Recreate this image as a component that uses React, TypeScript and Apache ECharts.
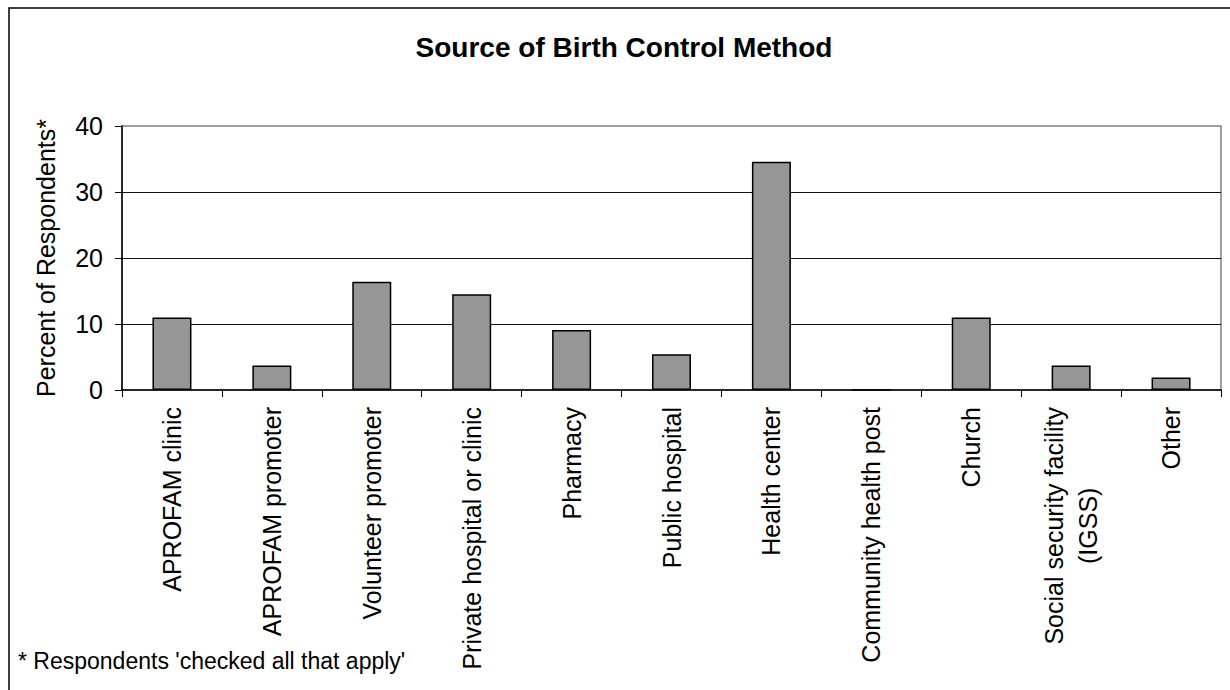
import React, { useEffect, useRef } from "react";
import * as echarts from "echarts";

const categories = [
  "APROFAM clinic",
  "APROFAM promoter",
  "Volunteer promoter",
  "Private hospital or clinic",
  "Pharmacy",
  "Public hospital",
  "Health center",
  "Community health post",
  "Church",
  "Social security facility\n(IGSS)",
  "Other",
];
const percentValues = [11.0, 3.7, 16.4, 14.5, 9.1, 5.4, 34.6, 0, 11.0, 3.7, 1.9];
const yTicks = [0, 10, 20, 30, 40];
const titleText = "Source of Birth Control Method";
const yAxisTitle = "Percent of Respondents*";
const footnote = "* Respondents 'checked all that apply'";

const FONT = "'Liberation Sans', Arial, Helvetica, sans-serif";

export default function App() {
  const ref = useRef<HTMLDivElement>(null);
  useEffect(() => {
    if (!ref.current) return;
    const chart = echarts.init(ref.current, null, { renderer: "svg" });
    chart.setOption({
      animation: false,
      backgroundColor: "#ffffff",
      textStyle: { fontFamily: FONT },
      graphic: [
        {
          type: "rect",
          shape: { x: 9, y: 8, width: 1300, height: 800 },
          style: { fill: "none", stroke: "#000", lineWidth: 1.5 },
          silent: true,
        },
        {
          type: "text",
          x: 624,
          y: 47,
          style: {
            text: titleText,
            fontFamily: FONT,
            fontSize: 28,
            fontWeight: "bold",
            fill: "#000",
            align: "center",
            verticalAlign: "middle",
          },
        },
        {
          type: "text",
          x: 18,
          y: 661,
          style: {
            text: footnote,
            fontFamily: FONT,
            fontSize: 23,
            fill: "#000",
            align: "left",
            verticalAlign: "middle",
          },
        },
      ],
      grid: {
        left: 122,
        right: 9,
        top: 126,
        bottom: 300,
        show: true,
        borderColor: "#808080",
        borderWidth: 1.5,
        backgroundColor: "transparent",
      },
      xAxis: {
        type: "category",
        data: categories,
        boundaryGap: true,
        axisLine: { show: true, lineStyle: { color: "#000", width: 1.5 } },
        axisTick: { show: true, length: 7, lineStyle: { color: "#000", width: 1 } },
        axisLabel: {
          rotate: 90,
          interval: 0,
          margin: 17,
          color: "#000",
          fontSize: 25,
          fontFamily: FONT,
          formatter: (v: string) =>
            v
              .split("\n")
              .map((s) => `{c|${s}}`)
              .join("\n"),
          rich: {
            c: {
              align: "center",
              fontSize: 25,
              fontFamily: FONT,
              color: "#000",
              lineHeight: 34,
            },
          },
        },
      },
      yAxis: {
        type: "value",
        min: yTicks[0],
        max: yTicks[yTicks.length - 1],
        interval: 10,
        name: yAxisTitle,
        nameLocation: "middle",
        nameGap: 64,
        nameTextStyle: { fontSize: 25, color: "#000", fontFamily: FONT },
        axisLine: { show: true, lineStyle: { color: "#000", width: 1.5 } },
        axisTick: { show: true, length: 7, lineStyle: { color: "#000", width: 1 } },
        axisLabel: { fontSize: 25, color: "#000", margin: 19, fontFamily: FONT },
        splitLine: {
          show: true,
          showMinLine: false,
          showMaxLine: false,
          lineStyle: { color: "#111", width: 1 },
        },
      },
      series: [
        {
          type: "bar",
          data: percentValues,
          barWidth: 39,
          itemStyle: { color: "#969696", borderColor: "#000", borderWidth: 1.5 },
        },
      ],
    });
    return () => chart.dispose();
  }, []);
  return (
    <div
      ref={ref}
      style={{ position: "fixed", left: 0, top: 0, width: 1230, height: 690 }}
    />
  );
}
